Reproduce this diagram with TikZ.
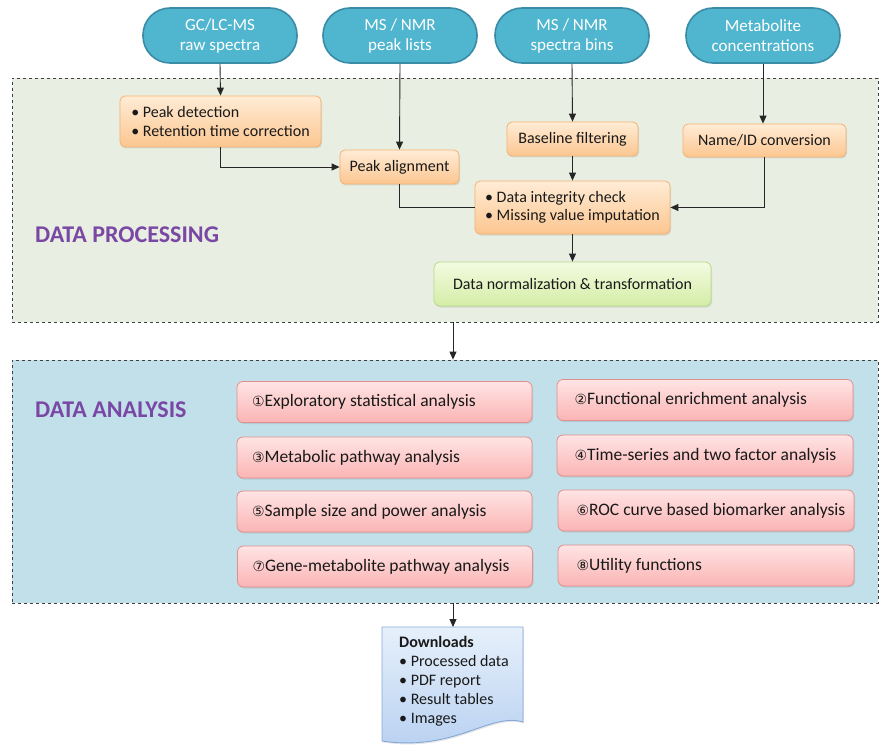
\documentclass[tikz,border=0pt]{standalone}
\usepackage{fontspec}
\setmainfont{Carlito}
\newfontfamily\symfont{DejaVu Sans}
\usetikzlibrary{arrows.meta,shadows,calc}
\definecolor{pillfill}{RGB}{80,181,206}
\definecolor{pillline}{RGB}{58,140,166}
\definecolor{procbg}{RGB}{232,238,226}
\definecolor{anabg}{RGB}{193,224,234}
\definecolor{orgtop}{RGB}{255,236,214}
\definecolor{orgbot}{RGB}{252,198,144}
\definecolor{orgline}{RGB}{244,178,112}
\definecolor{grntop}{RGB}{243,251,226}
\definecolor{grnbot}{RGB}{212,237,166}
\definecolor{grnline}{RGB}{185,218,138}
\definecolor{pnktop}{RGB}{255,228,228}
\definecolor{pnkbot}{RGB}{251,180,180}
\definecolor{pnkline}{RGB}{226,142,142}
\definecolor{dltop}{RGB}{230,240,251}
\definecolor{dlbot}{RGB}{183,208,241}
\definecolor{dlline}{RGB}{134,169,216}
\definecolor{purp}{RGB}{122,72,164}
\definecolor{txt}{RGB}{25,25,25}
\newcommand{\cnum}[1]{{\symfont\fontsize{14}{14}\selectfont #1}}
\newcommand{\lbox}[1]{\makebox[265pt][l]{#1}}
\tikzset{
  pill/.style={draw=pillline, line width=1.6pt, fill=pillfill, rounded corners=27pt,
    minimum width=154pt, minimum height=55pt, text=white, align=center,
    font=\fontsize{17}{20}\selectfont, inner sep=0pt},
  region/.style={draw=black!75, dashed, line width=0.8pt, inner sep=0pt},
  obox/.style={draw=orgline, line width=0.8pt, top color=orgtop, bottom color=orgbot,
    rounded corners=5pt, text=txt, font=\fontsize{16}{18}\selectfont, inner sep=0pt,
    drop shadow={opacity=0.2, shadow xshift=1pt, shadow yshift=-1.5pt}},
  gbox/.style={draw=grnline, line width=0.8pt, top color=grntop, bottom color=grnbot,
    rounded corners=6pt, text=txt, font=\fontsize{16}{18}\selectfont, inner sep=0pt,
    drop shadow={opacity=0.2, shadow xshift=1pt, shadow yshift=-1.5pt}},
  pbox/.style={draw=pnkline, line width=0.8pt, top color=pnktop, bottom color=pnkbot,
    rounded corners=6pt, text=txt, font=\fontsize{17.5}{19}\selectfont,
    minimum height=41pt, inner sep=0pt,
    drop shadow={opacity=0.2, shadow xshift=1pt, shadow yshift=-1.5pt}},
  sect/.style={text=purp, font=\fontsize{24}{26}\selectfont\bfseries, anchor=west, inner sep=0pt},
  arr/.style={-{Triangle[length=8pt,width=7pt]}, line width=0.9pt, black!85},
  ln/.style={line width=0.9pt, black!85}
}
\begin{document}
\begin{tikzpicture}[x=1pt,y=-1pt]
\useasboundingbox (0,0) rectangle (880,746);
% regions
\node[region, fill=procbg, minimum width=866pt, minimum height=244pt] (proc) at (445,200) {};
\node[region, fill=anabg, minimum width=866pt, minimum height=243pt] (ana) at (445,481.5) {};
\node[sect] (dp) at (35,235) {DATA PROCESSING};
\node[sect] (da) at (35,410) {DATA ANALYSIS};
% inputs
\node[pill] (gc) at (220,35.5) {GC/LC-MS\\raw spectra};
\node[pill] (pl) at (400,35.5) {MS / NMR\\peak lists};
\node[pill] (sb) at (572,35.5) {MS / NMR\\spectra bins};
\node[pill] (mc) at (763,35.5) {Metabolite\\concentrations};
% processing
\node[obox, minimum width=201pt, minimum height=51pt, align=left] (pd) at (220.5,121.5)
  {\textbullet\ Peak detection\\[1pt]\textbullet\ Retention time correction};
\node[obox, minimum width=119pt, minimum height=34pt] (pa) at (399.5,167) {Peak alignment};
\node[obox, minimum width=131pt, minimum height=34pt] (bf) at (572.5,139) {Baseline filtering};
\node[obox, minimum width=163pt, minimum height=33pt] (ni) at (764.5,140.5) {Name/ID conversion};
\node[obox, minimum width=195pt, minimum height=53pt, align=left] (di) at (572.5,207.5)
  {\textbullet\ Data integrity check\\[0pt]\textbullet\ Missing value imputation};
\node[gbox, minimum width=277pt, minimum height=44pt] (dn) at (572.5,284) {Data normalization \& transformation};
% analysis
\node[pbox, minimum width=295pt] (a1) at (384.5,402) {\lbox{\cnum{①}Exploratory statistical analysis}};
\node[pbox, minimum width=296pt] (a2) at (705,400) {\lbox{\hspace{2pt}\cnum{②}Functional enrichment analysis}};
\node[pbox, minimum width=295pt] (a3) at (384.5,457.5) {\lbox{\cnum{③}Metabolic pathway analysis}};
\node[pbox, minimum width=296pt] (a4) at (705,455.5) {\lbox{\hspace{2pt}\cnum{④}Time-series and two factor analysis}};
\node[pbox, minimum width=295pt] (a5) at (384.5,511.5) {\lbox{\cnum{⑤}Sample size and power analysis}};
\node[pbox, minimum width=296pt] (a6) at (706,510.5) {\lbox{\hspace{3pt}\cnum{⑥}ROC curve based biomarker analysis}};
\node[pbox, minimum width=295pt] (a7) at (385,566.5) {\lbox{\cnum{⑦}Gene-metabolite pathway analysis}};
\node[pbox, minimum width=296pt] (a8) at (706,565.5) {\lbox{\hspace{3pt}\cnum{⑧}Utility functions}};
% downloads document
\coordinate (dl) at (453,627);
\path[draw=dlline, line width=0.9pt, top color=dltop, bottom color=dlbot,
  drop shadow={opacity=0.2, shadow xshift=1pt, shadow yshift=-1.5pt}]
  (382,627) -- (523,627) -- (523,722)
  .. controls (490,712) and (455,752) .. (382,741) -- cycle;
\node[anchor=north west, align=left, text=txt, font=\fontsize{16}{19}\selectfont, inner sep=0pt] (dlt) at (399,636)
  {\textbf{Downloads}\\\textbullet\ Processed data\\\textbullet\ PDF report\\\textbullet\ Result tables\\\textbullet\ Images};
% connectors
\draw[arr] (gc.south) -- (pd.north);
\draw[arr] (pl.south) -- (pa.north);
\draw[arr] (sb.south) -- (bf.north);
\draw[arr] (mc.south) -- (ni.north -| mc.south);
\draw[arr] (pd.south) |- (pa.west);
\draw[arr] (bf.south) -- (di.north);
\draw[ln] (pa.south) |- (di.west);
\draw[arr] (ni.south) |- (di.east);
\draw[arr] (di.south) -- (dn.north);
\draw[arr] (proc.south -| dl) -- (ana.north -| dl);
\draw[arr] (ana.south -| dl) -- (dl);
\end{tikzpicture}
\end{document}
